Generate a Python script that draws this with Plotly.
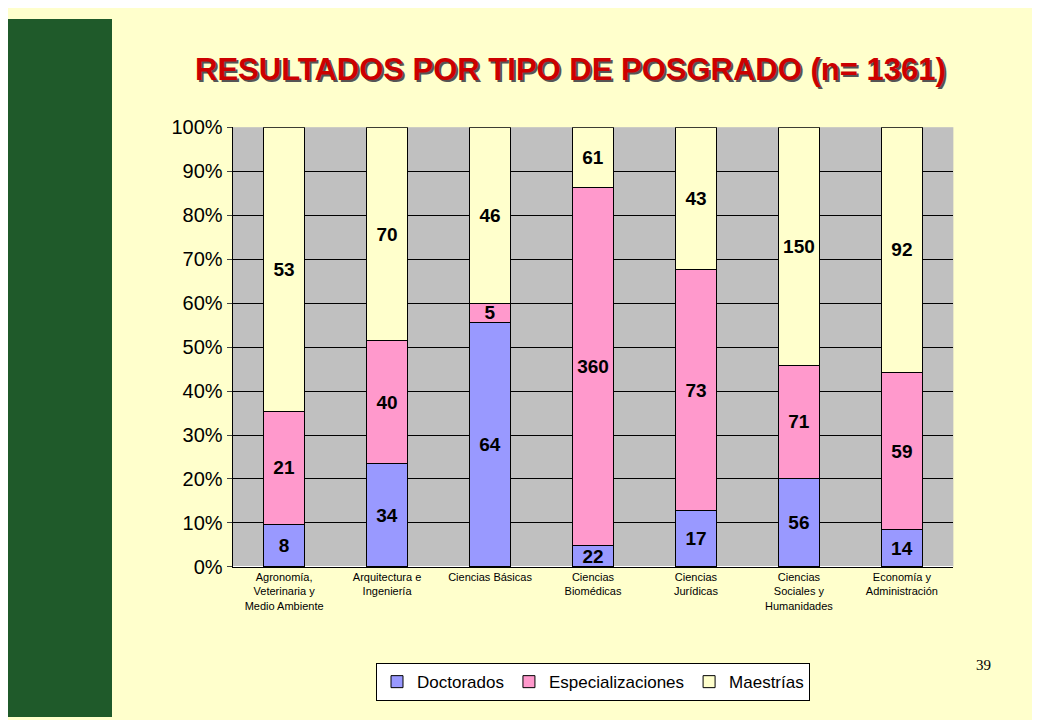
import plotly.graph_objects as go

categories = ["Agronomía,<br>Veterinaria y<br>Medio Ambiente", "Arquitectura e<br>Ingeniería",
              "Ciencias Básicas", "Ciencias<br>Biomédicas", "Ciencias<br>Jurídicas",
              "Ciencias<br>Sociales y<br>Humanidades", "Economía y<br>Administración"]
doctorados = [8, 34, 64, 22, 17, 56, 14]
especializaciones = [21, 40, 5, 360, 73, 71, 59]
maestrias = [53, 70, 46, 61, 43, 150, 92]

series = [("Doctorados", doctorados, "#9999FF"),
          ("Especializaciones", especializaciones, "#FF99CC"),
          ("Maestrías", maestrias, "#FFFFCC")]

fig = go.Figure()
for name, vals, col in series:
    fig.add_trace(go.Bar(
        x=categories, y=vals, name=name, text=vals, textposition="inside",
        insidetextanchor="middle", textangle=0, constraintext="none",
        textfont=dict(family="Arial", size=19, color="black", weight="bold"),
        marker=dict(color=col, line=dict(color="black", width=1)), width=0.4))

fig.update_layout(
    barmode="stack", barnorm="percent",
    uniformtext=dict(minsize=19, mode="show"),
    width=1040, height=720, margin=dict(l=0, r=0, t=0, b=0),
    paper_bgcolor="#FFFFCC", plot_bgcolor="#C0C0C0",
    font=dict(family="Arial", color="black"),
    xaxis=dict(domain=[0.216, 0.909], showline=True, linecolor="black",
               tickfont=dict(size=11), ticks=""),
    yaxis=dict(domain=[0.215, 0.845], range=[0, 100], dtick=10, ticksuffix="%",
               showgrid=True, gridcolor="black", gridwidth=1, showline=True,
               linecolor="black", ticks="outside", tickfont=dict(size=20)),
    legend=dict(orientation="h", x=0.5625, xanchor="center", y=0.05, yanchor="middle",
                bgcolor="white", bordercolor="black", borderwidth=1,
                font=dict(size=17), traceorder="normal"),
    shapes=[dict(type="rect", xref="paper", yref="paper", x0=0, x1=0.1, y0=0, y1=1,
                 fillcolor="#1f5a2a", line=dict(width=0), layer="below")],
    annotations=[
        dict(text="<b>RESULTADOS POR TIPO DE POSGRADO (n= 1361)</b>", xref="paper", yref="paper",
             x=0.541, y=0.955, xshift=2, yshift=-2, showarrow=False,
             font=dict(size=31, color="#555555", family="Arial")),
        dict(text="<b>RESULTADOS POR TIPO DE POSGRADO (n= 1361)</b>", xref="paper", yref="paper",
             x=0.541, y=0.955, showarrow=False, font=dict(size=31, color="#CC0000", family="Arial")),
        dict(text="39", xref="paper", yref="paper", x=0.947, y=0.06, showarrow=False,
             font=dict(size=15, family="Times New Roman")),
    ],
)
fig.write_html("out.html")
